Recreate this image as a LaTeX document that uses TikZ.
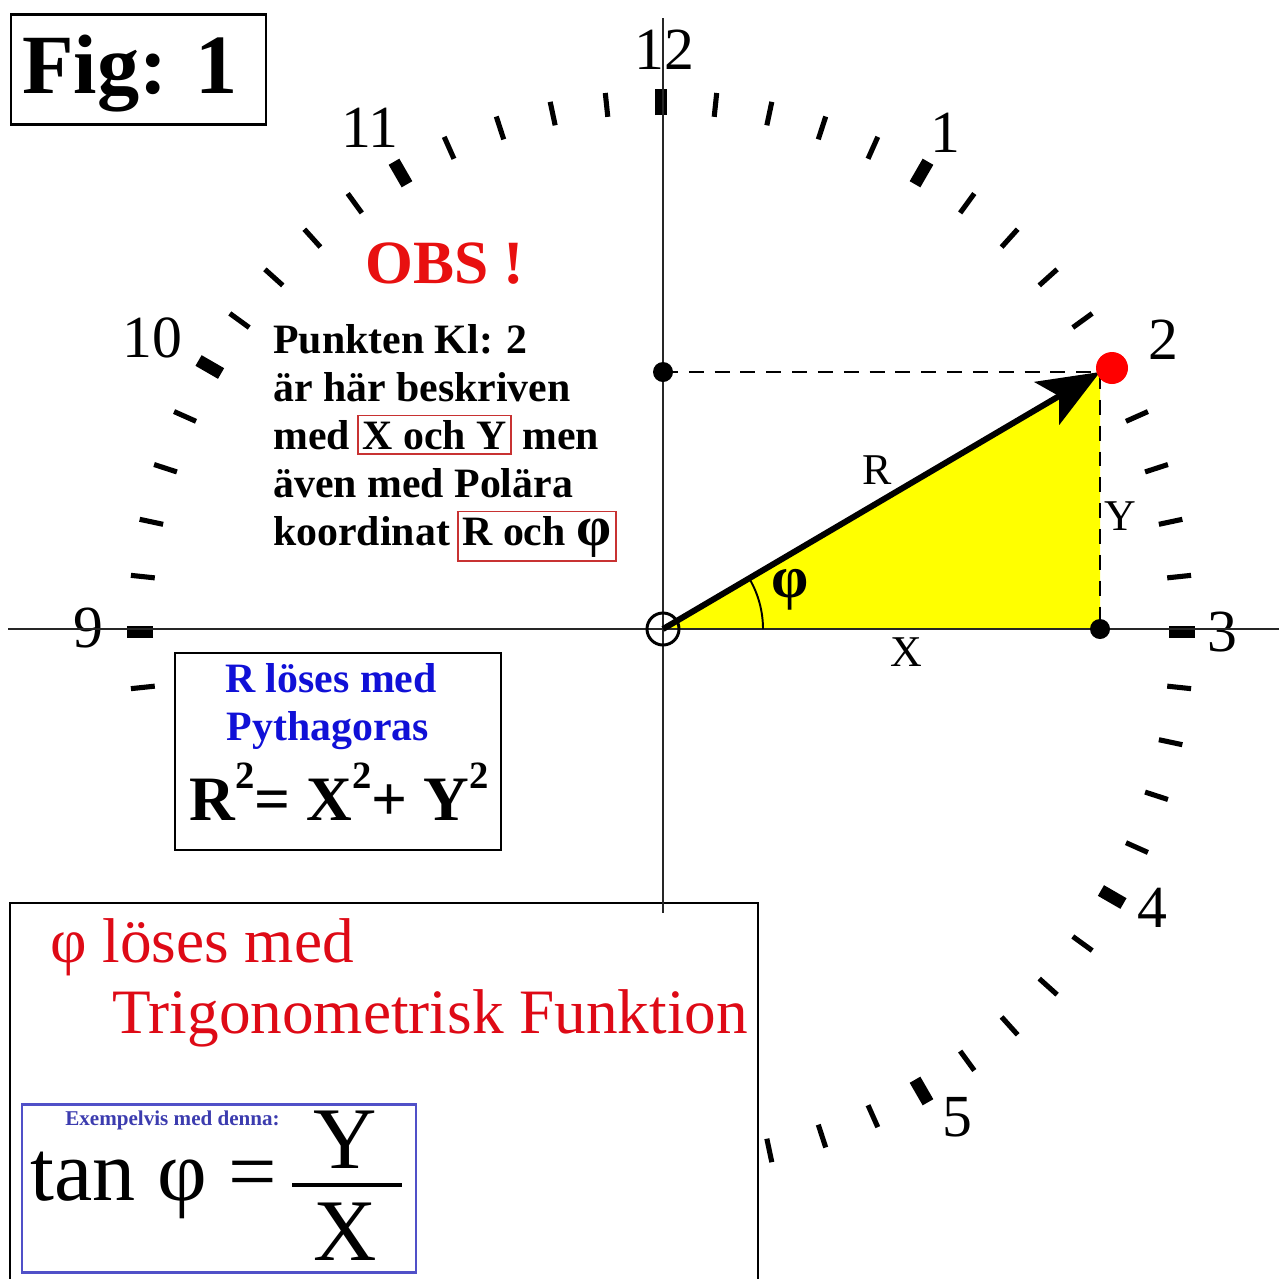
\documentclass[tikz,border=0pt]{standalone}
\usepackage{fontspec}
\setmainfont{Liberation Serif}
\usetikzlibrary{arrows.meta}
\definecolor{obsred}{RGB}{232,16,16}
\definecolor{boxred}{RGB}{200,50,50}
\definecolor{pyblue}{RGB}{16,16,215}
\definecolor{exblue}{RGB}{60,60,175}
\definecolor{frameblue}{RGB}{80,80,200}
\definecolor{trired}{RGB}{222,10,22}
\definecolor{yell}{RGB}{255,255,0}
\newcommand\fsz[1]{\fontsize{#1pt}{#1pt}\selectfont}
\newcommand\redbox[1]{{\fboxsep=2pt\fboxrule=1.1pt\fcolorbox{boxred}{white}{#1}}}
\newcommand\supt[1]{\raisebox{18pt}{\fsz{22}#1}}
\tikzset{
  hour/.style={inner sep=0pt, font=\fsz{34}},
  txt/.style={inner sep=0pt, font=\bfseries\fsz{23.8}, anchor=base west},
  lbl/.style={inner sep=0pt, font=\fsz{25}},
  axisline/.style={line width=0.85pt, black!85},
  dashline/.style={line width=1.1pt, dash pattern=on 8.5pt off 6.2pt},
  minortick/.style={line width=2.9pt},
  majortick/.style={line width=7pt},
  vec/.style={line width=3.4pt, -{Stealth[length=35pt,width=28pt,inset=8pt]}},
  frame/.style={line width=1.4pt}
}
\begin{document}
\begin{tikzpicture}[x=0.02cm,y=-0.02cm]
\useasboundingbox (0,0) rectangle (1279,1279);
\fill[white] (0,0) rectangle (1279,1279);

% clock ticks
\foreach \m in {44,...,88}{
  \ifnum\m=70\relax\else
    \pgfmathtruncatemacro\big{mod(\m,5)==0 ? 1 : 0}
    \ifnum\big=1
      \draw[majortick] ({661+508*sin(6*\m)},{632-517*cos(6*\m)}) -- ({661+534*sin(6*\m)},{632-543*cos(6*\m)});
    \else
      \draw[minortick] ({661+509*sin(6*\m)},{632-518*cos(6*\m)}) -- ({661+533*sin(6*\m)},{632-542*cos(6*\m)});
    \fi
  \fi
}

% hour numerals
\node[hour] (h12) at (664,50) {12};
\node[hour] (h11) at (370,128) {11};
\node[hour] (h1) at (945,133) {1};
\node[hour] (h2) at (1163,340) {2};
\node[hour] (h10) at (152,338) {10};
\node[hour] (h9) at (88,628) {9};
\node[hour] (h3) at (1222,632) {3};
\node[hour] (h4) at (1152,908) {4};
\node[hour] (h5) at (957,1117) {5};

% key points
\coordinate (O) at (663,629);
\coordinate (P) at (1100,372);
\coordinate (Q) at (1100,629);
\coordinate (Yp) at (663,372);
\coordinate (xl) at (8,629);
\coordinate (xr) at (1279,629);
\coordinate (yt) at (663,18);
\coordinate (yb) at (663,913);

% triangle
\fill[yell] (O) -- (P) -- (Q) -- cycle;

% bottom box
\draw[frame] (10,903) rectangle (758,1290);

% axes
\draw[axisline] (xl) -- (xr);
\draw[axisline] (yt) -- (yb);

% dashed projections
\draw[dashline] (Yp) -- (P) -- (Q);

% angle arc
\draw[line width=1.1pt] (763,629) arc[start angle=0,end angle=-30,radius=100];

% vector
\draw[vec] (O) -- (P);

% points
\fill (Yp) circle[radius=10];
\fill (Q) circle[radius=10];
\draw[line width=1.7pt] (O) circle[radius=16];
\fill[red] (1112,368) circle[radius=16];

% vector labels
\node[lbl] (lR) at (877,470) {R};
\node[lbl] (lX) at (906,652) {X};
\node[lbl] (lY) at (1120,516) {Y};
\node[inner sep=0pt, font=\bfseries\fsz{34}] (lphi) at (790,590) {φ};

% Fig box
\draw[line width=1.7pt] (11,14) rectangle (266,124);
\node[anchor=base, inner sep=0pt, font=\bfseries\fsz{48}] (fig) at (130,93) {Fig: 1};

% OBS text
\node[anchor=base, inner sep=0pt, font=\bfseries\fsz{35}, text=obsred] (obs) at (445,283) {OBS !};
\node[txt] (l1) at (273,353) {Punkten Kl: 2};
\node[txt] (l2) at (273,401) {är här beskriven};
\node[txt] (l3) at (273,449) {med\hspace{4pt}\redbox{X och Y} men};
\node[txt] (l4) at (273,497) {även med Polära};
\node[txt] (l5) at (273,545) {koordinat\hspace{4pt}\redbox{R och {\fsz{32}φ}}};

% Pythagoras box
\draw[frame] (175,653) rectangle (501,850);
\node[anchor=base, inner sep=0pt, font=\bfseries\fsz{23.8}, text=pyblue] (py1) at (331,692) {R löses med};
\node[anchor=base, inner sep=0pt, font=\bfseries\fsz{23.8}, text=pyblue] (py2) at (328,740) {Pythagoras};
\node[anchor=base, inner sep=0pt, font=\bfseries\fsz{36}] (pyeq) at (339,820) {R\supt{2}= X\supt{2}+ Y\supt{2}};

% trig text
\node[anchor=base west, inner sep=0pt, font=\fsz{36}, text=trired] (tr1) at (50,962) {φ löses med};
\node[anchor=base west, inner sep=0pt, font=\fsz{36}, text=trired] (tr2) at (112,1033) {Trigonometrisk Funktion};

% tan box
\draw[line width=1.7pt, frameblue] (22,1104) rectangle (416,1272);
\node[anchor=base west, inner sep=0pt, font=\bfseries\fsz{12}, text=exblue] (ex) at (65,1125) {Exempelvis med denna:};
\node[anchor=base west, inner sep=0pt, font=\fsz{49}] (tan) at (30,1200) {tan φ =};
\node[anchor=base, inner sep=0pt, font=\fsz{50}] (fy) at (345,1168) {Y};
\node[anchor=base, inner sep=0pt, font=\fsz{50}] (fx) at (345,1260) {X};
\draw[line width=2.3pt] (292,1185) -- (402,1185);
\end{tikzpicture}
\end{document}
